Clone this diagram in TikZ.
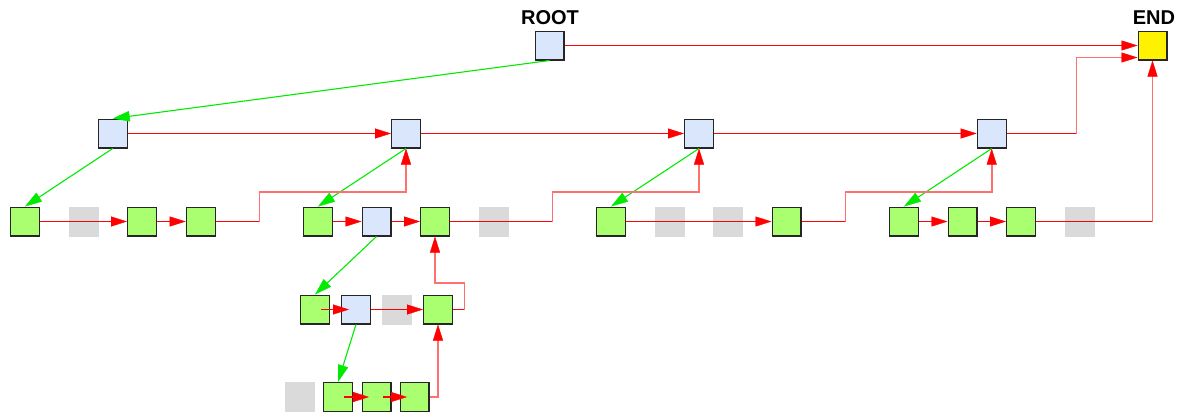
\documentclass[tikz,border=0pt]{standalone}
\usepackage{fontspec}
\setmainfont{Liberation Sans}
\usetikzlibrary{arrows.meta,shadows}
\definecolor{nodeblue}{RGB}{218,230,252}
\definecolor{nodegreen}{RGB}{170,255,112}
\definecolor{nodegrey}{RGB}{218,218,218}
\definecolor{linkgreen}{RGB}{0,235,0}
\definecolor{linkred}{RGB}{255,0,0}
\definecolor{linkpink}{RGB}{255,112,112}
\tikzset{
  box/.style={rectangle, minimum size=28.8pt, inner sep=0pt, line width=1.2pt,
    draw=black!85, drop shadow={shadow xshift=1pt, shadow yshift=-1pt, fill=black!55, opacity=0.8}},
  bluebox/.style={box, fill=nodeblue},
  greenbox/.style={box, fill=nodegreen},
  endbox/.style={box, fill=yellow},
  greybox/.style={rectangle, minimum size=30pt, inner sep=0pt, fill=nodegrey},
  title/.style={font=\bfseries\fontsize{20}{24}\selectfont},
  gline/.style={draw=linkgreen, line width=1.1pt, -{Triangle[length=17pt,width=10.5pt,color=linkgreen,line width=0.4pt]}},
  rline/.style={draw=linkred, line width=1.3pt},
  rarrow/.style={rline, -{Triangle[length=16pt,width=10pt,color=linkred,line width=0.4pt]}},
  pline/.style={draw=linkpink, line width=1.8pt},
  parrow/.style={pline, -{Triangle[length=16pt,width=10pt,color=linkred,line width=0.4pt]}},
}
\begin{document}
\begin{tikzpicture}[x=1pt,y=-1pt]
\useasboundingbox (0,0) rectangle (1184,416);

% top row
\node[title] (rootlbl) at (550,18) {ROOT};
\node[title] (endlbl) at (1154,18) {END};
\node[bluebox] (ROOT) at (549.5,45.5) {};
\node[endbox] (END) at (1152.5,45.5) {};

% first level
\node[bluebox] (A1) at (112.7,133.5) {};
\node[bluebox] (A2) at (406,133.5) {};
\node[bluebox] (A3) at (699,133.5) {};
\node[bluebox] (A4) at (991.7,133.5) {};

% second level
\node[greenbox] (g1a) at (25,221.5) {};
\node[greybox]  (x1)  at (84,221.5) {};
\node[greenbox] (g1b) at (142,221.5) {};
\node[greenbox] (g1c) at (200.7,221.5) {};

\node[greenbox] (g2a) at (318,221.5) {};
\node[bluebox]  (b2)  at (376.5,221.5) {};
\node[greenbox] (g2c) at (435,221.5) {};
\node[greybox]  (x2)  at (494,221.5) {};

\node[greenbox] (g3a) at (611,221.5) {};
\node[greybox]  (x3)  at (670,221.5) {};
\node[greybox]  (x4)  at (728,221.5) {};
\node[greenbox] (g3d) at (786.5,221.5) {};

\node[greenbox] (g4a) at (904,221.5) {};
\node[greenbox] (g4b) at (962.5,221.5) {};
\node[greenbox] (g4c) at (1021,221.5) {};
\node[greybox]  (x5)  at (1080,221.5) {};

% third level
\node[greenbox] (g5a) at (315,309.5) {};
\node[bluebox]  (b5)  at (356,309.5) {};
\node[greybox]  (x6)  at (397,309.5) {};
\node[greenbox] (g5d) at (438,309.5) {};

% fourth level
\node[greybox]  (x7)  at (300,397) {};
\node[greenbox] (g6a) at (338,397) {};
\node[greenbox] (g6b) at (376.5,397) {};
\node[greenbox] (g6c) at (414.5,397) {};

% bends of the return links
\coordinate (k1) at (259.5,192);
\coordinate (k2) at (552.5,192);
\coordinate (k3) at (845.5,192);
\coordinate (k5) at (1076.5,57.5);
\coordinate (k6) at (464.5,283);

% child links
\draw[gline] (ROOT.south) -- (A1.north);
\draw[gline] (A1.south) -- (g1a.north);
\draw[gline] (A2.south) -- (g2a.north);
\draw[gline] (A3.south) -- (g3a.north);
\draw[gline] (A4.south) -- (g4a.north);
\draw[gline] (b2.south) -- (g5a.north);
\draw[gline] (b5.south) -- (g6a.north);

% sibling links
\draw[rarrow] (ROOT.east) -- (END.west);
\draw[rarrow] (A1.east) -- (A2.west);
\draw[rarrow] (A2.east) -- (A3.west);
\draw[rarrow] (A3.east) -- (A4.west);
\draw[rarrow] (g1a.east) -- (g1b.west);
\draw[rarrow] (g1b.east) -- (g1c.west);
\draw[rarrow] (g2a.east) -- (b2.west);
\draw[rarrow] (b2.east) -- (g2c.west);
\draw[rarrow] (g3a.east) -- (g3d.west);
\draw[rarrow] (g4a.east) -- (g4b.west);
\draw[rarrow] (g4b.east) -- (g4c.west);
\draw[rarrow] (b5.east) -- (g5d.west);
\draw[rarrow, shorten <=6pt, shorten >=7pt] (g5a.center) -- (b5.center);
\draw[rarrow, shorten <=6pt, shorten >=7.5pt] (g6a.center) -- (g6b.center);
\draw[rarrow, shorten <=6pt, shorten >=7.5pt] (g6b.center) -- (g6c.center);

% return links to the parent
\draw[rline] (g1c.east) -- (g1c.east -| k1);
\draw[parrow] (g1c.east -| k1) -- (k1) -| (A2.south);
\draw[rline] (g2c.east) -- (g2c.east -| k2);
\draw[parrow] (g2c.east -| k2) -- (k2) -| (A3.south);
\draw[rline] (g3d.east) -- (g3d.east -| k3);
\draw[parrow] (g3d.east -| k3) -- (k3) -| (A4.south);
\draw[rline] (A4.east) -- (A4.east -| k5);
\draw[parrow] (A4.east -| k5) -- (k5) -- (END.west |- k5);
\draw[rline] (g4c.east) -- (g4c.east -| END.south);
\draw[parrow] (g4c.east -| END.south) -- (END.south);
\draw[rline] (g5d.east) -- (g5d.east -| k6);
\draw[parrow] (g5d.east -| k6) -- (k6) -| (g2c.south);
\draw[parrow] (g6c.east) -- (g6c.east -| g5d.south) -- (g5d.south);
\end{tikzpicture}
\end{document}
